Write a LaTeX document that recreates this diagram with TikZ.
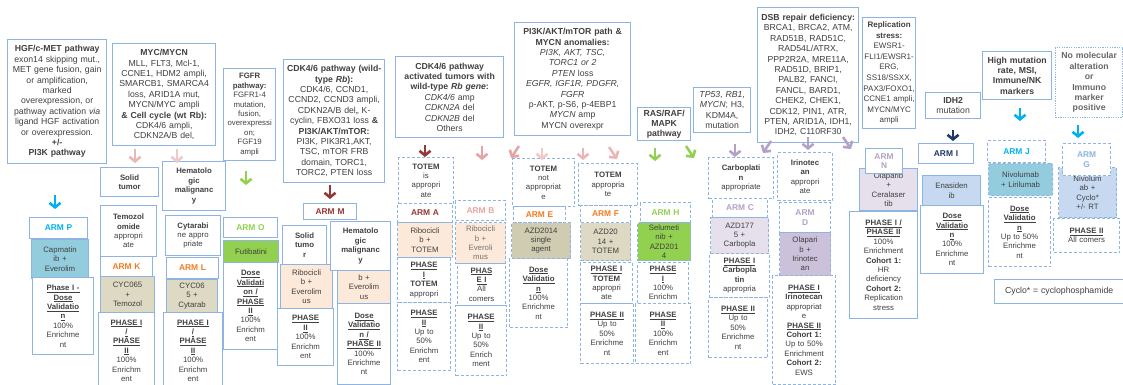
\documentclass[tikz,border=0pt]{standalone}
\usepackage{fontspec}
\setmainfont{Liberation Sans}
\usetikzlibrary{arrows.meta}

\definecolor{edge}{HTML}{8EB4E3}
\definecolor{txt}{HTML}{404040}
\definecolor{cyanA}{HTML}{00B0F0}
\definecolor{orangeA}{HTML}{F47B20}
\definecolor{greenA}{HTML}{92D050}
\definecolor{redA}{HTML}{953735}
\definecolor{pinkA}{HTML}{E6A5A4}
\definecolor{lilacA}{HTML}{B3A2C7}
\definecolor{navyA}{HTML}{1F3864}
\definecolor{skyA}{HTML}{8DB4E2}
\definecolor{teal}{HTML}{93CDDD}
\definecolor{tan}{HTML}{DDD9C3}
\definecolor{tandark}{HTML}{D0CCB2}
\definecolor{peach}{HTML}{FDE9D9}
\definecolor{lav}{HTML}{E5E0EC}
\definecolor{plum}{HTML}{CCC1DA}
\definecolor{sky}{HTML}{C6D9F1}

\begin{document}
\begin{tikzpicture}[x=1pt, y=-1pt]
    \tikzstyle{every node}=[anchor=north west, align=center, inner xsep=2pt, inner ysep=1pt, text=txt, font=\fontsize{7.8}{9.4}\selectfont]
    \tikzstyle{bx}=[draw=edge, line width=1.1pt, fill=white]
    \tikzstyle{dbx}=[bx, dash pattern=on 3pt off 2pt]
    \tikzstyle{top}=[bx, line width=1.3pt, font=\fontsize{8.7}{10.4}\selectfont]
    \tikzset{
        bw/.style={minimum width=#1pt, text width=#1pt-4pt},
        bh/.style={minimum height=#1pt},
        arm/.style={text=#1, font=\fontsize{8.4}{9.6}\selectfont\bfseries},
        drug/.style={fill=#1},
        chev/.style={draw=#1, line width=2.6pt, -{Straight Barb[length=4.5pt, width=11pt]}}
    }
    \fill[white] (0,0) rectangle (1123,384);
    \useasboundingbox (0,0) rectangle (1123,384);

    % pathway boxes along the top
    \node[top, bw=99, bh=124] (hgf) at (7,39) {\textbf{HGF/c-MET  pathway}\\exon14 skipping mut.,\\MET gene fusion, gain\\or amplification,\\marked\\overexpression, or\\pathway activation \textit{via}\\ligand HGF activation\\or overexpression.\\\textbf{+/-}\\\textbf{PI3K pathway}};
    \node[top, bw=103, bh=102] (myc) at (112,43) {\textbf{MYC/MYCN}\\MLL, FLT3, Mcl-1,\\CCNE1, HDM2 ampli,\\SMARCB1, SMARCA4\\loss, ARID1A mut,\\MYCN/MYC  ampli\\\textbf{\& Cell cycle (wt Rb):}\\CDK4/6 ampli,\\CDKN2A/B del,};
    \node[bx, line width=1.3pt, bw=52, bh=92] (fgfr) at (223,68) {\textbf{FGFR}\\\textbf{pathway:}\\FGFR1-4\\mutation,\\fusion,\\overexpressi\\on;\\FGF19\\ampli};
    \node[top, bw=101, bh=123] (cdk) at (283,59) {\textbf{CDK4/6  pathway (wild-}\\\textbf{type \textit{Rb}):}\\CDK4/6, CCND1,\\CCND2, CCND3 ampli,\\CDKN2A/B del,, K-\\cyclin, FBXO31 loss \textbf{\&}\\\textbf{PI3K/AKT/mTOR:}\\PI3K, PIK3R1,AKT,\\TSC, mTOR FRB\\domain, TORC1,\\TORC2, PTEN loss};
    \node[top, bw=108, bh=81] (cdkrb) at (395,56) {\textbf{CDK4/6  pathway}\\\textbf{activated tumors with}\\\textbf{wild-type \textit{Rb gene}:}\\\textit{CDK4/6} amp\\\textit{CDKN2A} del\\\textit{CDKN2B} del\\Others};
    \node[top, bw=116, bh=113] (mtor) at (514,22) {\textbf{PI3K/AKT/mTOR  path \&}\\\textbf{MYCN  anomalies:}\\\textit{PI3K, AKT, TSC,}\\\textit{TORC1 or 2}\\\textit{PTEN} loss\\\textit{EGFR, IGF1R, PDGFR,}\\\textit{FGFR}\\p-AKT, p-S6, p-4EBP1\\\textit{MYCN} amp\\MYCN overexpr};
    \node[top, bw=53, bh=33] (ras) at (637,107) {\textbf{RAS/RAF/}\\\textbf{MAPK}\\\textbf{pathway}};
    \node[top, bw=57, bh=45] (tp53) at (693,87) {\textit{TP53}, \textit{RB1},\\\textit{MYCN}; H3,\\KDM4A,\\mutation};
    \node[top, bw=101, bh=135] (dsb) at (757,7) {\textbf{DSB repair deficiency:}\\BRCA1, BRCA2, ATM,\\RAD51B, RAD51C,\\RAD54L/ATRX,\\PPP2R2A, MRE11A,\\RAD51D, BRIP1,\\PALB2, FANCI,\\FANCL, BARD1,\\CHEK2, CHEK1,\\CDK12, PIN1, ATR,\\PTEN, ARID1A,  IDH1,\\IDH2, C110RF30};
    \node[top, bw=53, bh=111, inner xsep=0pt, text width=53pt, font=\fontsize{8}{10.6}\selectfont] (rep) at (862,17) {\textbf{Replication}\\\textbf{stress:}\\EWSR1-\\FLI1/EWSR1-\\ERG,\\SS18/SSXX,\\PAX3/FOXO1,\\CCNE1 ampli,\\MYCN/MYC\\ampli};
    \node[top, bw=55, bh=26] (idh) at (925,92) {\textbf{IDH2}\\mutation};
    \node[top, bw=69, bh=48] (hmr) at (982,51) {\textbf{High  mutation}\\\textbf{rate, MSI,}\\\textbf{Immune/NK}\\\textbf{markers}};
    \node[top, bw=67, bh=70, dash pattern=on 1.2pt off 1.2pt, text=black!60] (nomol) at (1055,47) {\textbf{No molecular}\\\textbf{alteration}\\\textbf{or}\\\textbf{Immuno}\\\textbf{marker}\\\textbf{positive}};

    % ARM P
    \node[bx, arm=cyanA, bw=58, bh=21] (armP) at (29,217) {ARM P};
    \node[bx, drug=teal, bw=57, bh=39] (drugP) at (31,239) {Capmatin\\ib +\\Everolim};
    \node[bx, bw=61, bh=77] (phP) at (32,277) {\underline{\textbf{Phase I -}}\\\underline{\textbf{Dose}}\\\underline{\textbf{Validatio}}\\\underline{\textbf{n}}\\100\%\\Enrichme\\nt};

    % ARM K and ARM L
    \node[bx, bw=58, bh=29] (solK) at (100,167) {\textbf{Solid}\\\textbf{tumor}};
    \node[bx, bw=63, bh=49] (hemL) at (162,161) {\textbf{Hematolo}\\\textbf{gic}\\\textbf{malignanc}\\\textbf{y}};
    \node[bx, bw=56, bh=51] (temK) at (100,205) {\textbf{Temozol}\\\textbf{omide}\\appropri\\ate};
    \node[bx, arm=orangeA, bw=52, bh=20] (armK) at (100,256) {ARM K};
    \node[bx, drug=tan, bw=54, bh=36] (drugK) at (100,276) {CYC065\\+\\Temozol};
    \node[bx, bw=56, bh=76] (phK) at (98,312) {\underline{\textbf{PHASE I}}\\\underline{\textbf{/}}\\\underline{\textbf{PHASE}}\\\underline{\textbf{II}}\\100\%\\Enrichm\\ent};
    \node[bx, bw=55, bh=40] (cytL) at (165,215) {\textbf{Cytarabi}\\ne appro\\priate};
    \node[bx, arm=orangeA, bw=52, bh=21] (armL) at (166,257) {ARM L};
    \node[bx, drug=tan, bw=51, bh=33] (drugL) at (166,279) {CYC06\\5 +\\Cytarab};
    \node[bx, bw=59, bh=76] (phL) at (163,312) {\underline{\textbf{PHASE I}}\\\underline{\textbf{/}}\\\underline{\textbf{PHASE}}\\\underline{\textbf{II}}\\100\%\\Enrichm\\ent};

    % ARM O
    \node[bx, arm=greenA, bw=54, bh=20] (armO) at (223,217) {ARM O};
    \node[bx, drug=greenA, bw=55, bh=22] (drugO) at (223,240) {Futibatini};
    \node[bx, bw=54, bh=87] (phO) at (223,262) {\underline{\textbf{Dose}}\\\underline{\textbf{Validati}}\\\underline{\textbf{on /}}\\\underline{\textbf{PHASE}}\\\underline{\textbf{II}}\\100\%\\Enrichm\\ent};

    % ARM M
    \node[bx, arm=redA, bw=53, bh=16] (armM) at (303,203) {ARM M};
    \node[bx, bw=44, bh=39] (solM) at (282,225) {\textbf{Solid}\\\textbf{tumo}\\\textbf{r}};
    \node[bx, drug=peach, bw=52, bh=44] (drugM1) at (280,264) {Ribocicli\\b +\\Everolim\\us};
    \node[bx, bw=56, bh=57] (phM1) at (277,308) {\underline{\textbf{PHASE}}\\\underline{\textbf{II}}\\100\%\\Enrichm\\ent};
    \node[bx, bw=60, bh=49] (hemM) at (330,221) {\textbf{Hematolo}\\\textbf{gic}\\\textbf{malignanc}\\\textbf{y}};
    \node[bx, drug=peach, bw=53, bh=33] (drugM2) at (337,270) {b +\\Everolim\\us};
    \node[bx, bw=53, bh=81] (phM2) at (337,303) {\underline{\textbf{Dose}}\\\underline{\textbf{Validatio}}\\\underline{\textbf{n /}}\\\underline{\textbf{PHASE II}}\\100\%\\Enrichme\\nt};

    % ARM A and ARM B
    \node[dbx, bw=55, bh=46] (totA) at (398,157) {\textbf{TOTEM}\\is\\appropri\\ate};
    \node[dbx, arm=redA, bw=55, bh=19] (armA) at (397,203) {ARM A};
    \node[dbx, drug=peach, bw=55, bh=35] (drugA) at (397,222) {Ribocicli\\b +\\TOTEM};
    \node[dbx, bw=53, bh=45] (phA1) at (397,257) {\underline{\textbf{PHASE}}\\\underline{\textbf{I}}\\\textbf{TOTEM}\\appropri};
    \node[dbx, bw=53, bh=68] (phA2) at (397,302) {\underline{\textbf{PHASE}}\\\underline{\textbf{II}}\\Up to\\50\%\\Enrichm\\ent};
    \node[dbx, arm=pinkA, bw=50, bh=20] (armB) at (455,200) {ARM B};
    \node[dbx, drug=peach, bw=50, bh=41, text=black!55] (drugB) at (455,222) {Ribocicli\\b +\\Everoli\\mus};
    \node[dbx, bw=48, bh=42] (phB1) at (457,263) {\underline{\textbf{PHAS}}\\\underline{\textbf{E I}}\\All\\comers};
    \node[dbx, bw=51, bh=70] (phB2) at (455,305) {\underline{\textbf{PHASE}}\\\underline{\textbf{II}}\\Up to\\50\%\\Enrich\\ment};

    % ARM E and ARM F
    \node[dbx, bw=62, bh=48] (totE) at (512,158) {\textbf{TOTEM}\\not\\appropriat\\e};
    \node[dbx, arm=orangeA, bw=52, bh=16] (armE) at (513,206) {ARM E};
    \node[dbx, drug=tandark, bw=59, bh=36] (drugE) at (511,222) {AZD2014\\single\\agent};
    \node[dbx, bw=58, bh=69] (phE) at (509,258) {\underline{\textbf{Dose}}\\\underline{\textbf{Validatio}}\\\underline{\textbf{n}}\\100\%\\Enrichme\\nt};
    \node[dbx, bw=59, bh=42] (totF) at (578,163) {\textbf{TOTEM}\\appropria\\te};
    \node[dbx, arm=orangeA, bw=50, bh=17] (armF) at (580,205) {ARM F};
    \node[dbx, drug=tan, bw=50, bh=38] (drugF) at (580,222) {AZD20\\14 +\\TOTEM};
    \node[dbx, bw=52, bh=41] (phF1) at (580,262) {\underline{\textbf{PHASE I}}\\\textbf{TOTEM}\\appropri\\ate};
    \node[dbx, bw=53, bh=60] (phF2) at (580,303) {\underline{\textbf{PHASE II}}\\Up to\\50\%\\Enrichme\\nt};

    % ARM H
    \node[dbx, arm=greenA, bw=50, bh=20] (armH) at (640,202) {ARM H};
    \node[dbx, drug=greenA, bw=53, bh=38] (drugH) at (637,222) {Selumeti\\nib +\\AZD201\\4};
    \node[dbx, bw=51, bh=41] (phH1) at (637,262) {\underline{\textbf{PHASE}}\\\underline{\textbf{I}}\\100\%\\Enrichm};
    \node[dbx, bw=55, bh=60] (phH2) at (635,303) {\underline{\textbf{PHASE}}\\\underline{\textbf{II}}\\100\%\\Enrichm\\ent};

    % ARM C and ARM D
    \node[dbx, bw=65, bh=41] (carC) at (708,157) {\textbf{Carboplati}\\\textbf{n}\\appropriate};
    \node[dbx, arm=lilacA, bw=55, bh=19] (armC) at (712,198) {ARM C};
    \node[dbx, drug=lav, bw=58, bh=36] (drugC) at (710,217) {AZD177\\5 +\\Carbopla};
    \node[dbx, bw=60, bh=44] (phC1) at (709,253) {\underline{\textbf{PHASE I}}\\\textbf{Carbopla}\\\textbf{tin}\\appropria};
    \node[dbx, bw=59, bh=60] (phC2) at (708,297) {\underline{\textbf{PHASE II}}\\Up to\\50\%\\Enrichme\\nt};
    \node[dbx, bw=55, bh=48] (iriD) at (777,152) {\textbf{Irinotec}\\\textbf{an}\\appropri\\ate};
    \node[dbx, arm=lilacA, bw=51, bh=30] (armD) at (779,202) {ARM\\D};
    \node[dbx, drug=plum, bw=51, bh=43] (drugD) at (779,232) {Olapari\\b +\\Irinotec\\an};
    \node[dbx, bw=63, bh=109] (phD) at (772,275) {\underline{\textbf{PHASE I}}\\\textbf{Irinotecan}\\appropriat\\e\\\underline{\textbf{PHASE II}}\\\textbf{Cohort 1:}\\Up to 50\%\\Enrichment\\\textbf{Cohort 2:}\\EWS};

    % ARM N
    \node[bx, drug=lav, bw=58, bh=42] (drugN) at (859,168) {Olaparib\\+\\Ceralaser\\tib};
    \node[bx, arm=lilacA, bw=37, bh=25] (armN) at (865,148) {ARM\\N};
    \node[bx, bw=68, bh=107] (phN) at (849,211) {\underline{\textbf{PHASE I /}}\\\underline{\textbf{PHASE II}}\\100\%\\Enrichment\\\textbf{Cohort 1:}\\HR\\deficiency\\\textbf{Cohort 2:}\\Replication\\stress};

    % ARM I
    \node[bx, arm=navyA, bw=55, bh=20] (armI) at (918,143) {ARM I};
    \node[bx, drug=sky, bw=58, bh=30] (drugI) at (922,175) {Enasiden\\ib};
    \node[bx, bw=63, bh=68] (phI) at (920,205) {\underline{\textbf{Dose}}\\\underline{\textbf{Validatio}}\\\underline{\textbf{n}}\\100\%\\Enrichme\\nt};

    % ARM J and ARM G
    \node[dbx, arm=cyanA, bw=58, bh=22] (armJ) at (987,140) {ARM J};
    \node[dbx, drug=teal, rounded corners=2pt, bw=64, bh=32] (drugJ) at (988,163) {Nivolumab\\+ Lirilumab};
    \node[dbx, bw=62, bh=69] (phJ) at (988,197) {\underline{\textbf{Dose}}\\\underline{\textbf{Validatio}}\\\underline{\textbf{n}}\\Up to 50\%\\Enrichme\\nt};
    \node[dbx, drug=sky, bw=58, bh=50] (drugG) at (1058,167) {Nivolum\\ab +\\Cyclo*\\+/- RT};
    \node[dbx, arm=skyA, bw=48, bh=32] (armG) at (1062,143) {ARM\\G};
    \node[dbx, bw=66, bh=34] (phG) at (1053,218) {\underline{\textbf{PHASE II}}\\All comers};

    \node[top, bw=129, bh=24] (note) at (994,279) {Cyclo* = cyclophosphamide};

    % block arrows under the pathway boxes
    \draw[chev=cyanA] (55,195) -- (55,209);
    \draw[chev=pinkA!80] (135,149) -- (135,163);
    \draw[chev=pinkA!60] (177,149) -- (177,163);
    \draw[chev=greenA] (246,171) -- (246,185);
    \draw[chev=redA] (330,185) -- (330,199);
    \draw[chev=redA] (425,145) -- (425,157);
    \draw[chev=pinkA] (482,146) -- (482,160);
    \draw[chev=pinkA] (519,146) -- (511,158);
    \draw[chev=pinkA!60] (542,148) -- (542,160);
    \draw[chev=pinkA!80] (583,148) -- (583,160);
    \draw[chev=pinkA!80] (609,147) -- (617,159);
    \draw[chev=greenA] (655,148) -- (655,161);
    \draw[chev=greenA] (686,146) -- (694,158);
    \draw[chev=lilacA] (735,144) -- (735,157);
    \draw[chev=lilacA] (771,141) -- (763,153);
    \draw[chev=lilacA] (808,137) -- (808,150);
    \draw[chev=lilacA] (843,137) -- (851,149);
    \draw[chev=navyA] (953,130) -- (953,141);
    \draw[chev=cyanA] (1020,108) -- (1020,121);
    \draw[chev=cyanA] (1078,125) -- (1078,138);
\end{tikzpicture}
\end{document}
